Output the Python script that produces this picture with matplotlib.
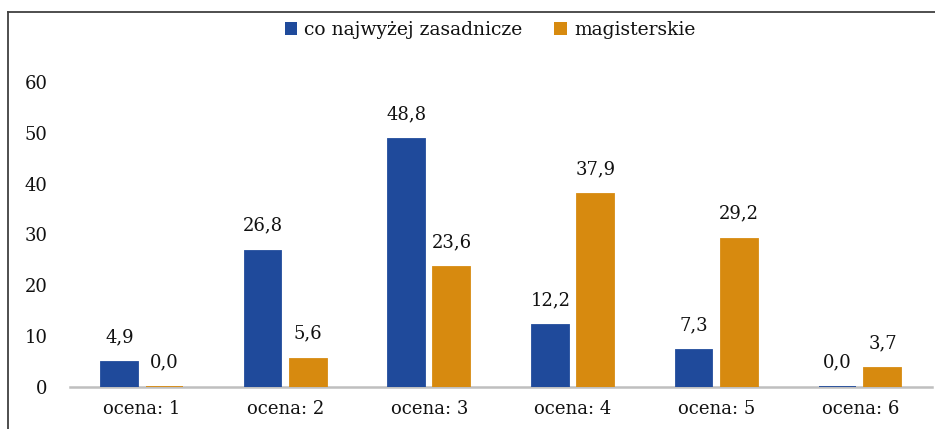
import matplotlib.pyplot as plt
from matplotlib.lines import Line2D
from matplotlib.patches import Patch
import numpy as np

plt.rcParams['font.family'] = ['DejaVu Serif']

# data
categories = ['ocena: 1', 'ocena: 2', 'ocena: 3', 'ocena: 4', 'ocena: 5', 'ocena: 6']
zasadnicze = [4.9, 26.8, 48.8, 12.2, 7.3, 0.0]
magisterskie = [0.0, 5.6, 23.6, 37.9, 29.2, 3.7]
series_names = ['co najwyżej zasadnicze', 'magisterskie']
yticks = [0, 10, 20, 30, 40, 50, 60]

blue = '#1F4A9B'
orange = '#D78A0F'
txt = '#111111'

fig = plt.figure(figsize=(9.35, 4.29), dpi=100)
ax = fig.add_axes([0.0749, 0.0979, 0.922, 0.711])

x = np.arange(len(categories))
w = 0.257
off = 0.157
b1 = ax.bar(x - off, zasadnicze, w, color=blue, edgecolor=blue, linewidth=1.3, zorder=3)
b2 = ax.bar(x + off, magisterskie, w, color=orange, edgecolor=orange, linewidth=1.3, zorder=3)

for bars, vals in [(b1, zasadnicze), (b2, magisterskie)]:
    for r, v in zip(bars, vals):
        ax.annotate(f'{v:.1f}'.replace('.', ','),
                    (r.get_x() + r.get_width() / 2, v),
                    xytext=(0, 18), textcoords='offset points',
                    ha='center', va='center', fontsize=13, color=txt)

ax.set_xlim(-0.5, len(categories) - 0.5)
ax.set_ylim(0, 60)
ax.set_yticks(yticks)
ax.set_xticks(x)
ax.set_xticklabels(categories)
ax.tick_params(axis='both', length=0, labelsize=13, colors=txt)
ax.tick_params(axis='y', pad=16)
ax.tick_params(axis='x', pad=9)
for s in ['top', 'right', 'left']:
    ax.spines[s].set_visible(False)
ax.spines['bottom'].set_color('#BFBFBF')
ax.spines['bottom'].set_linewidth(1.8)
ax.spines['bottom'].set_zorder(1)

handles = [Patch(facecolor=blue), Patch(facecolor=orange)]
fig.legend(handles, series_names, loc='center', bbox_to_anchor=(0.524, 0.93),
           ncol=2, frameon=False, fontsize=13.5, handlelength=0.65, handleheight=0.65,
           handletextpad=0.4, columnspacing=1.7, labelcolor=txt)

# frame around the chart (cut at right and bottom)
fig.add_artist(Line2D([8 / 935, 8 / 935], [0, 1 - 12 / 429], color='#404040', lw=1.3))
fig.add_artist(Line2D([8 / 935, 1], [1 - 12 / 429, 1 - 12 / 429], color='#404040', lw=1.3))

fig.savefig('out.png', dpi=100)
